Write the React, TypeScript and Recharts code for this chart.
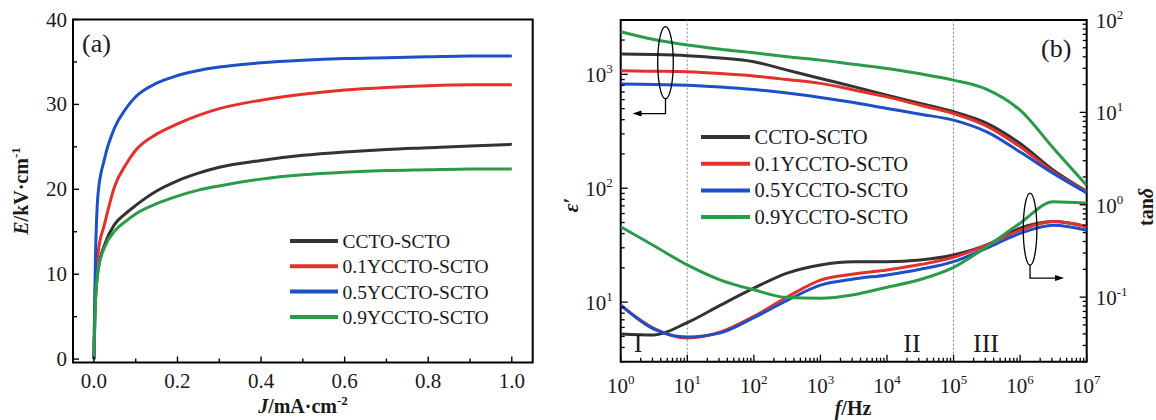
import React from 'react';
import {
  LineChart,
  Line,
  XAxis,
  YAxis,
  ReferenceArea,
  ReferenceLine,
  ReferenceDot,
  Legend,
} from 'recharts';

const FONT = '"Liberation Serif", "Times New Roman", Times, serif';
const INK = '#1a1a1a';

// ---------- shared series styling ----------
const seriesNames = ['CCTO-SCTO', '0.1YCCTO-SCTO', '0.5YCCTO-SCTO', '0.9YCCTO-SCTO'];
const seriesColors = ['#333333', '#e4312b', '#1d4fc6', '#2a9a4b'];

// ---------- panel (a): E–J ----------
const currentDensity = [0, 0.003, 0.01, 0.025, 0.05, 0.075, 0.1, 0.15, 0.2, 0.25, 0.3, 0.4, 0.5, 0.6, 0.7, 0.8, 0.9, 1.0];
const fieldCCTO = [0, 6, 10.5, 13.4, 15.9, 17.1, 18.1, 19.8, 21.0, 21.9, 22.6, 23.4, 24.0, 24.4, 24.7, 24.9, 25.1, 25.3];
const field01Y = [0, 8, 12.5, 15.8, 20.4, 22.8, 24.6, 26.5, 27.7, 28.7, 29.5, 30.5, 31.2, 31.7, 32.0, 32.2, 32.3, 32.3];
const field05Y = [0, 10, 19.5, 23.5, 27.3, 29.4, 30.9, 32.5, 33.4, 34.0, 34.4, 34.9, 35.2, 35.4, 35.5, 35.6, 35.7, 35.7];
const field09Y = [0, 6, 10.5, 13.1, 15.1, 16.2, 17.1, 18.3, 19.2, 19.9, 20.4, 21.2, 21.7, 22.0, 22.2, 22.3, 22.4, 22.4];

const jTicks = [0, 0.1, 0.2, 0.3, 0.4, 0.5, 0.6, 0.7, 0.8, 0.9, 1.0];
const eTicks = [0, 5, 10, 15, 20, 25, 30, 35, 40];

// ---------- panel (b): dielectric spectra ----------
const frequency = [1, 3.16, 10, 31.6, 100, 316, 1000, 3160, 1e4, 3.16e4, 1e5, 3.16e5, 1e6, 3.16e6, 1e7];
const epsCCTO = [1507, 1490, 1456, 1390, 1289, 1089, 920, 780, 656, 555, 469, 371, 247, 144, 94];
const eps01Y = [1073, 1065, 1052, 1015, 966, 900, 833, 730, 634, 535, 453, 351, 231, 139, 94];
const eps05Y = [821, 813, 804, 775, 736, 685, 627, 565, 502, 447, 396, 312, 208, 135, 91];
const eps09Y = [2366, 2020, 1807, 1660, 1545, 1430, 1333, 1225, 1127, 1010, 889, 738, 484, 225, 106];
const tanCCTO = [0.04, 0.039, 0.053, 0.082, 0.125, 0.182, 0.223, 0.242, 0.242, 0.253, 0.286, 0.367, 0.557, 0.657, 0.579];
const tan01Y = [0.082, 0.046, 0.036, 0.042, 0.062, 0.1, 0.153, 0.178, 0.197, 0.225, 0.27, 0.367, 0.53, 0.657, 0.579];
const tan05Y = [0.082, 0.045, 0.037, 0.041, 0.06, 0.092, 0.135, 0.157, 0.174, 0.2, 0.242, 0.339, 0.49, 0.6, 0.53];
const tan09Y = [0.579, 0.36, 0.223, 0.153, 0.12, 0.099, 0.097, 0.106, 0.128, 0.155, 0.21, 0.352, 0.631, 1.08, 1.04];

const freqDecades = [1, 10, 100, 1000, 1e4, 1e5, 1e6];
const freqTicks = [...freqDecades.flatMap((d) => [1, 2, 3, 4, 5, 6, 7, 8, 9].map((k) => k * d)), 1e7];
const epsTicks = [3, 4, 5, 6, 7, 8, 9, 10, 20, 30, 40, 50, 60, 70, 80, 90, 100, 200, 300, 400, 500, 600, 700, 800, 900, 1000, 2000, 3000];
const tanTicks = [0.02, 0.03, 0.04, 0.05, 0.06, 0.07, 0.08, 0.09, 0.1, 0.2, 0.3, 0.4, 0.5, 0.6, 0.7, 0.8, 0.9, 1, 2, 3, 4, 5, 6, 7, 8, 9, 10, 20, 30, 40, 50, 60, 70, 80, 90, 100];

const ejData = currentDensity.map((J, i) => ({
  J,
  s0: fieldCCTO[i],
  s1: field01Y[i],
  s2: field05Y[i],
  s3: field09Y[i],
}));

const dielData = frequency.map((f, i) => ({
  f,
  e0: epsCCTO[i],
  e1: eps01Y[i],
  e2: eps05Y[i],
  e3: eps09Y[i],
  t0: tanCCTO[i],
  t1: tan01Y[i],
  t2: tan05Y[i],
  t3: tan09Y[i],
}));

// ---------- ticks ----------
const isDecade = (v: number) => Math.abs(Math.log10(v) - Math.round(Math.log10(v))) < 1e-6;

const Pow = ({ x, y, v, anchor, fs }: any) => {
  const e = Math.round(Math.log10(v));
  return (
    <text x={x} y={y} textAnchor={anchor} fontSize={fs} fontFamily={FONT} fill={INK}>
      10
      <tspan dy={-9} fontSize={fs * 0.62}>
        {e}
      </tspan>
    </text>
  );
};

const JTick = (props: any) => {
  const { x, y, payload } = props;
  const v = payload.value;
  const major = Math.round(v * 10) % 2 === 0;
  return (
    <g>
      <line x1={x} x2={x} y1={y} y2={y - (major ? 6 : 4)} stroke="#000" strokeWidth={1.4} />
      {major && (
        <text x={x} y={y + 25} textAnchor="middle" fontSize={21} fontFamily={FONT} fill={INK}>
          {v.toFixed(1)}
        </text>
      )}
    </g>
  );
};

const ETick = (props: any) => {
  const { x, y, payload } = props;
  const v = payload.value;
  const major = v % 10 === 0;
  return (
    <g>
      <line x1={x} x2={x + (major ? 6 : 4)} y1={y} y2={y} stroke="#000" strokeWidth={1.4} />
      {major && (
        <text x={x - 6} y={y + 7} textAnchor="end" fontSize={21} fontFamily={FONT} fill={INK}>
          {v}
        </text>
      )}
    </g>
  );
};

const FreqTick = (props: any) => {
  const { x, y, payload } = props;
  const v = payload.value;
  const major = isDecade(v);
  return (
    <g>
      <line x1={x} x2={x} y1={y} y2={y - (major ? 7 : 4)} stroke="#000" strokeWidth={1.3} />
      {major && <Pow x={x} y={y + 31} v={v} anchor="middle" fs={21} />}
    </g>
  );
};

const EpsTick = (props: any) => {
  const { x, y, payload } = props;
  const v = payload.value;
  const major = isDecade(v);
  return (
    <g>
      <line x1={x} x2={x + (major ? 7 : 4)} y1={y} y2={y} stroke="#000" strokeWidth={1.3} />
      {major && <Pow x={x - 8} y={y + 8} v={v} anchor="end" fs={21} />}
    </g>
  );
};

const TanTick = (props: any) => {
  const { x, y, payload } = props;
  const v = payload.value;
  const major = isDecade(v);
  return (
    <g>
      <line x1={x} x2={x - (major ? 7 : 4)} y1={y} y2={y} stroke="#000" strokeWidth={1.3} />
      {major && <Pow x={x + 9} y={y + 8} v={v} anchor="start" fs={21} />}
    </g>
  );
};

// ---------- legend ----------
const LegendBox = ({ payload, rowGap, fs, lineLen }: any) => {
  const items = (payload || [])
    .filter((p: any) => p.type !== 'none' && seriesNames.indexOf(p.value) >= 0)
    .slice()
    .sort((a: any, b: any) => seriesNames.indexOf(a.value) - seriesNames.indexOf(b.value));
  return (
    <svg width={240} height={rowGap * items.length + 12} style={{ display: 'block', overflow: 'visible' }}>
      {items.map((p: any, i: number) => {
        const cy = 15 + i * rowGap;
        return (
          <g key={i}>
            <line x1={5} x2={5 + lineLen} y1={cy} y2={cy} stroke={p.color} strokeWidth={4} />
            <text x={5 + lineLen + 4.5} y={cy + 7} fontSize={fs} fontFamily={FONT} fill={INK}>
              {p.value}
            </text>
          </g>
        );
      })}
    </svg>
  );
};

// ---------- annotation shapes (ellipse + arrow) ----------
const LeftMarker = (props: any) => {
  const { cx, cy } = props;
  const ry = 36;
  const yb = cy + 51;
  const tip = cx - 33;
  return (
    <g>
      <ellipse cx={cx} cy={cy} rx={7.8} ry={ry} fill="none" stroke="#000" strokeWidth={1.3} />
      <path d={`M${cx},${cy + ry} V${yb} H${tip + 8}`} fill="none" stroke="#000" strokeWidth={1.3} />
      <path d={`M${tip},${yb} L${tip + 9},${yb - 3} L${tip + 9},${yb + 3} Z`} fill="#000" />
    </g>
  );
};

const RightMarker = (props: any) => {
  const { cx, cy } = props;
  const ry = 36;
  const yb = cy + 49;
  const tip = cx + 34;
  return (
    <g>
      <ellipse cx={cx} cy={cy} rx={6.8} ry={ry} fill="none" stroke="#000" strokeWidth={1.3} />
      <path d={`M${cx},${cy + ry} V${yb} H${tip - 8}`} fill="none" stroke="#000" strokeWidth={1.3} />
      <path d={`M${tip},${yb} L${tip - 9},${yb - 3} L${tip - 9},${yb + 3} Z`} fill="#000" />
    </g>
  );
};

const hiddenAxis = { tickLine: false, axisLine: false, tickSize: 0, tickMargin: 0, interval: 0 as const };
const keepOrder = (item: any) => seriesNames.indexOf(item.value);

export default function App() {
  return (
    <div style={{ position: 'absolute', left: 0, top: 0, width: 1156, height: 420, background: '#fff', overflow: 'hidden' }}>
      {/* Panel (a) */}
      <div style={{ position: 'absolute', left: 0, top: 0 }}>
        <LineChart width={560} height={420} data={ejData} margin={{ top: 19.5, right: 27.3, bottom: 17.5, left: 33 }}>
          <XAxis
            dataKey="J"
            type="number"
            domain={[-0.05, 1.05]}
            ticks={jTicks}
            allowDataOverflow
            height={40}
            tick={<JTick />}
            {...hiddenAxis}
          />
          <YAxis type="number" domain={[-0.4, 40]} ticks={eTicks} allowDataOverflow width={40} tick={<ETick />} {...hiddenAxis} />
          <ReferenceArea x1={-0.05} x2={1.05} y1={-0.4} y2={40} fill="none" stroke="#000" strokeWidth={2} ifOverflow="visible" />
          <Line dataKey="s0" name={seriesNames[0]} stroke={seriesColors[0]} strokeWidth={3} type="monotone" dot={false} activeDot={false} isAnimationActive={false} />
          <Line dataKey="s1" name={seriesNames[1]} stroke={seriesColors[1]} strokeWidth={3} type="monotone" dot={false} activeDot={false} isAnimationActive={false} />
          <Line dataKey="s2" name={seriesNames[2]} stroke={seriesColors[2]} strokeWidth={3} type="monotone" dot={false} activeDot={false} isAnimationActive={false} />
          <Line dataKey="s3" name={seriesNames[3]} stroke={seriesColors[3]} strokeWidth={3} type="monotone" dot={false} activeDot={false} isAnimationActive={false} />
          <Legend
            layout="vertical"
            align="center"
            verticalAlign="middle"
            itemSorter={keepOrder}
            wrapperStyle={{ left: 285, top: 225.5, width: 240 }}
            content={(p: any) => <LegendBox payload={p.payload} rowGap={25.3} fs={19.5} lineLen={48} />}
          />
        </LineChart>
      </div>

      {/* Panel (b) */}
      <div style={{ position: 'absolute', left: 560, top: 0 }}>
        <LineChart width={596} height={420} data={dielData} margin={{ top: 20, right: 29.3, bottom: 18.3, left: 20.7 }}>
          <XAxis
            dataKey="f"
            type="number"
            scale="log"
            domain={[1, 1e7]}
            ticks={freqTicks}
            allowDataOverflow
            height={40}
            tick={<FreqTick />}
            {...hiddenAxis}
          />
          <YAxis
            yAxisId="left"
            orientation="left"
            type="number"
            scale="log"
            domain={[3, 3000]}
            ticks={epsTicks}
            allowDataOverflow
            width={40}
            tick={<EpsTick />}
            {...hiddenAxis}
          />
          <YAxis
            yAxisId="right"
            orientation="right"
            type="number"
            scale="log"
            domain={[0.02, 100]}
            ticks={tanTicks}
            allowDataOverflow
            width={40}
            tick={<TanTick />}
            {...hiddenAxis}
          />
          <ReferenceArea yAxisId="left" x1={1} x2={1e7} y1={3} y2={3000} fill="none" stroke="#000" strokeWidth={2} ifOverflow="visible" />
          <ReferenceLine yAxisId="left" x={10} stroke="#777" strokeDasharray="2 2" strokeWidth={0.9} />
          <ReferenceLine yAxisId="left" x={1e5} stroke="#777" strokeDasharray="2 2" strokeWidth={0.9} />

          <Line yAxisId="left" dataKey="e0" name={seriesNames[0]} stroke={seriesColors[0]} strokeWidth={3} type="monotone" dot={false} activeDot={false} isAnimationActive={false} />
          <Line yAxisId="left" dataKey="e1" name={seriesNames[1]} stroke={seriesColors[1]} strokeWidth={3} type="monotone" dot={false} activeDot={false} isAnimationActive={false} />
          <Line yAxisId="left" dataKey="e2" name={seriesNames[2]} stroke={seriesColors[2]} strokeWidth={3} type="monotone" dot={false} activeDot={false} isAnimationActive={false} />
          <Line yAxisId="left" dataKey="e3" name={seriesNames[3]} stroke={seriesColors[3]} strokeWidth={3} type="monotone" dot={false} activeDot={false} isAnimationActive={false} />
          <Line yAxisId="right" dataKey="t0" name={seriesNames[0] + ' tanδ'} legendType="none" stroke={seriesColors[0]} strokeWidth={3} type="monotone" dot={false} activeDot={false} isAnimationActive={false} />
          <Line yAxisId="right" dataKey="t1" name={seriesNames[1] + ' tanδ'} legendType="none" stroke={seriesColors[1]} strokeWidth={3} type="monotone" dot={false} activeDot={false} isAnimationActive={false} />
          <Line yAxisId="right" dataKey="t2" name={seriesNames[2] + ' tanδ'} legendType="none" stroke={seriesColors[2]} strokeWidth={3} type="monotone" dot={false} activeDot={false} isAnimationActive={false} />
          <Line yAxisId="right" dataKey="t3" name={seriesNames[3] + ' tanδ'} legendType="none" stroke={seriesColors[3]} strokeWidth={3} type="monotone" dot={false} activeDot={false} isAnimationActive={false} />

          <ReferenceDot yAxisId="left" x={4.71} y={1268} r={0} shape={<LeftMarker />} ifOverflow="visible" />
          <ReferenceDot yAxisId="right" x={1.41e6} y={0.545} r={0} shape={<RightMarker />} ifOverflow="visible" />

          <Legend
            layout="vertical"
            align="center"
            verticalAlign="middle"
            itemSorter={keepOrder}
            wrapperStyle={{ left: 136, top: 122, width: 240 }}
            content={(p: any) => <LegendBox payload={p.payload} rowGap={26.7} fs={20.5} lineLen={49} />}
          />
        </LineChart>
      </div>

      {/* Titles and panel labels */}
      <svg width={1156} height={420} style={{ position: 'absolute', left: 0, top: 0, pointerEvents: 'none' }} fontFamily={FONT} fill={INK}>
        <text x={82} y={52} fontSize={26}>(a)</text>
        <text x={1041} y={57} fontSize={26}>(b)</text>

        <text x={638} y={352} fontSize={26} textAnchor="middle">I</text>
        <text x={912} y={352} fontSize={26} textAnchor="middle">II</text>
        <text x={986} y={352} fontSize={26} textAnchor="middle">III</text>

        <text x={303} y={413} fontSize={20} fontWeight="bold" textAnchor="middle">
          <tspan fontStyle="italic">J</tspan>/mA·cm<tspan dy={-8} fontSize={13}>-2</tspan>
        </text>
        <text x={853} y={415} fontSize={20} fontWeight="bold" textAnchor="middle">
          <tspan fontStyle="italic">f</tspan>/Hz
        </text>

        <text x={28} y={191} fontSize={20} fontWeight="bold" textAnchor="middle" transform="rotate(-90 28 191)">
          <tspan fontStyle="italic">E</tspan>/kV·cm<tspan dy={-8} fontSize={13}>-1</tspan>
        </text>
        <text x={578} y={205} fontSize={22} fontWeight="bold" textAnchor="middle" transform="rotate(-90 578 205)">
          <tspan fontStyle="italic">ε</tspan>′
        </text>
        <text x={1153} y={207} fontSize={20} fontWeight="bold" textAnchor="middle" transform="rotate(-90 1153 207)">
          tan<tspan fontStyle="italic">δ</tspan>
        </text>
      </svg>
    </div>
  );
}
